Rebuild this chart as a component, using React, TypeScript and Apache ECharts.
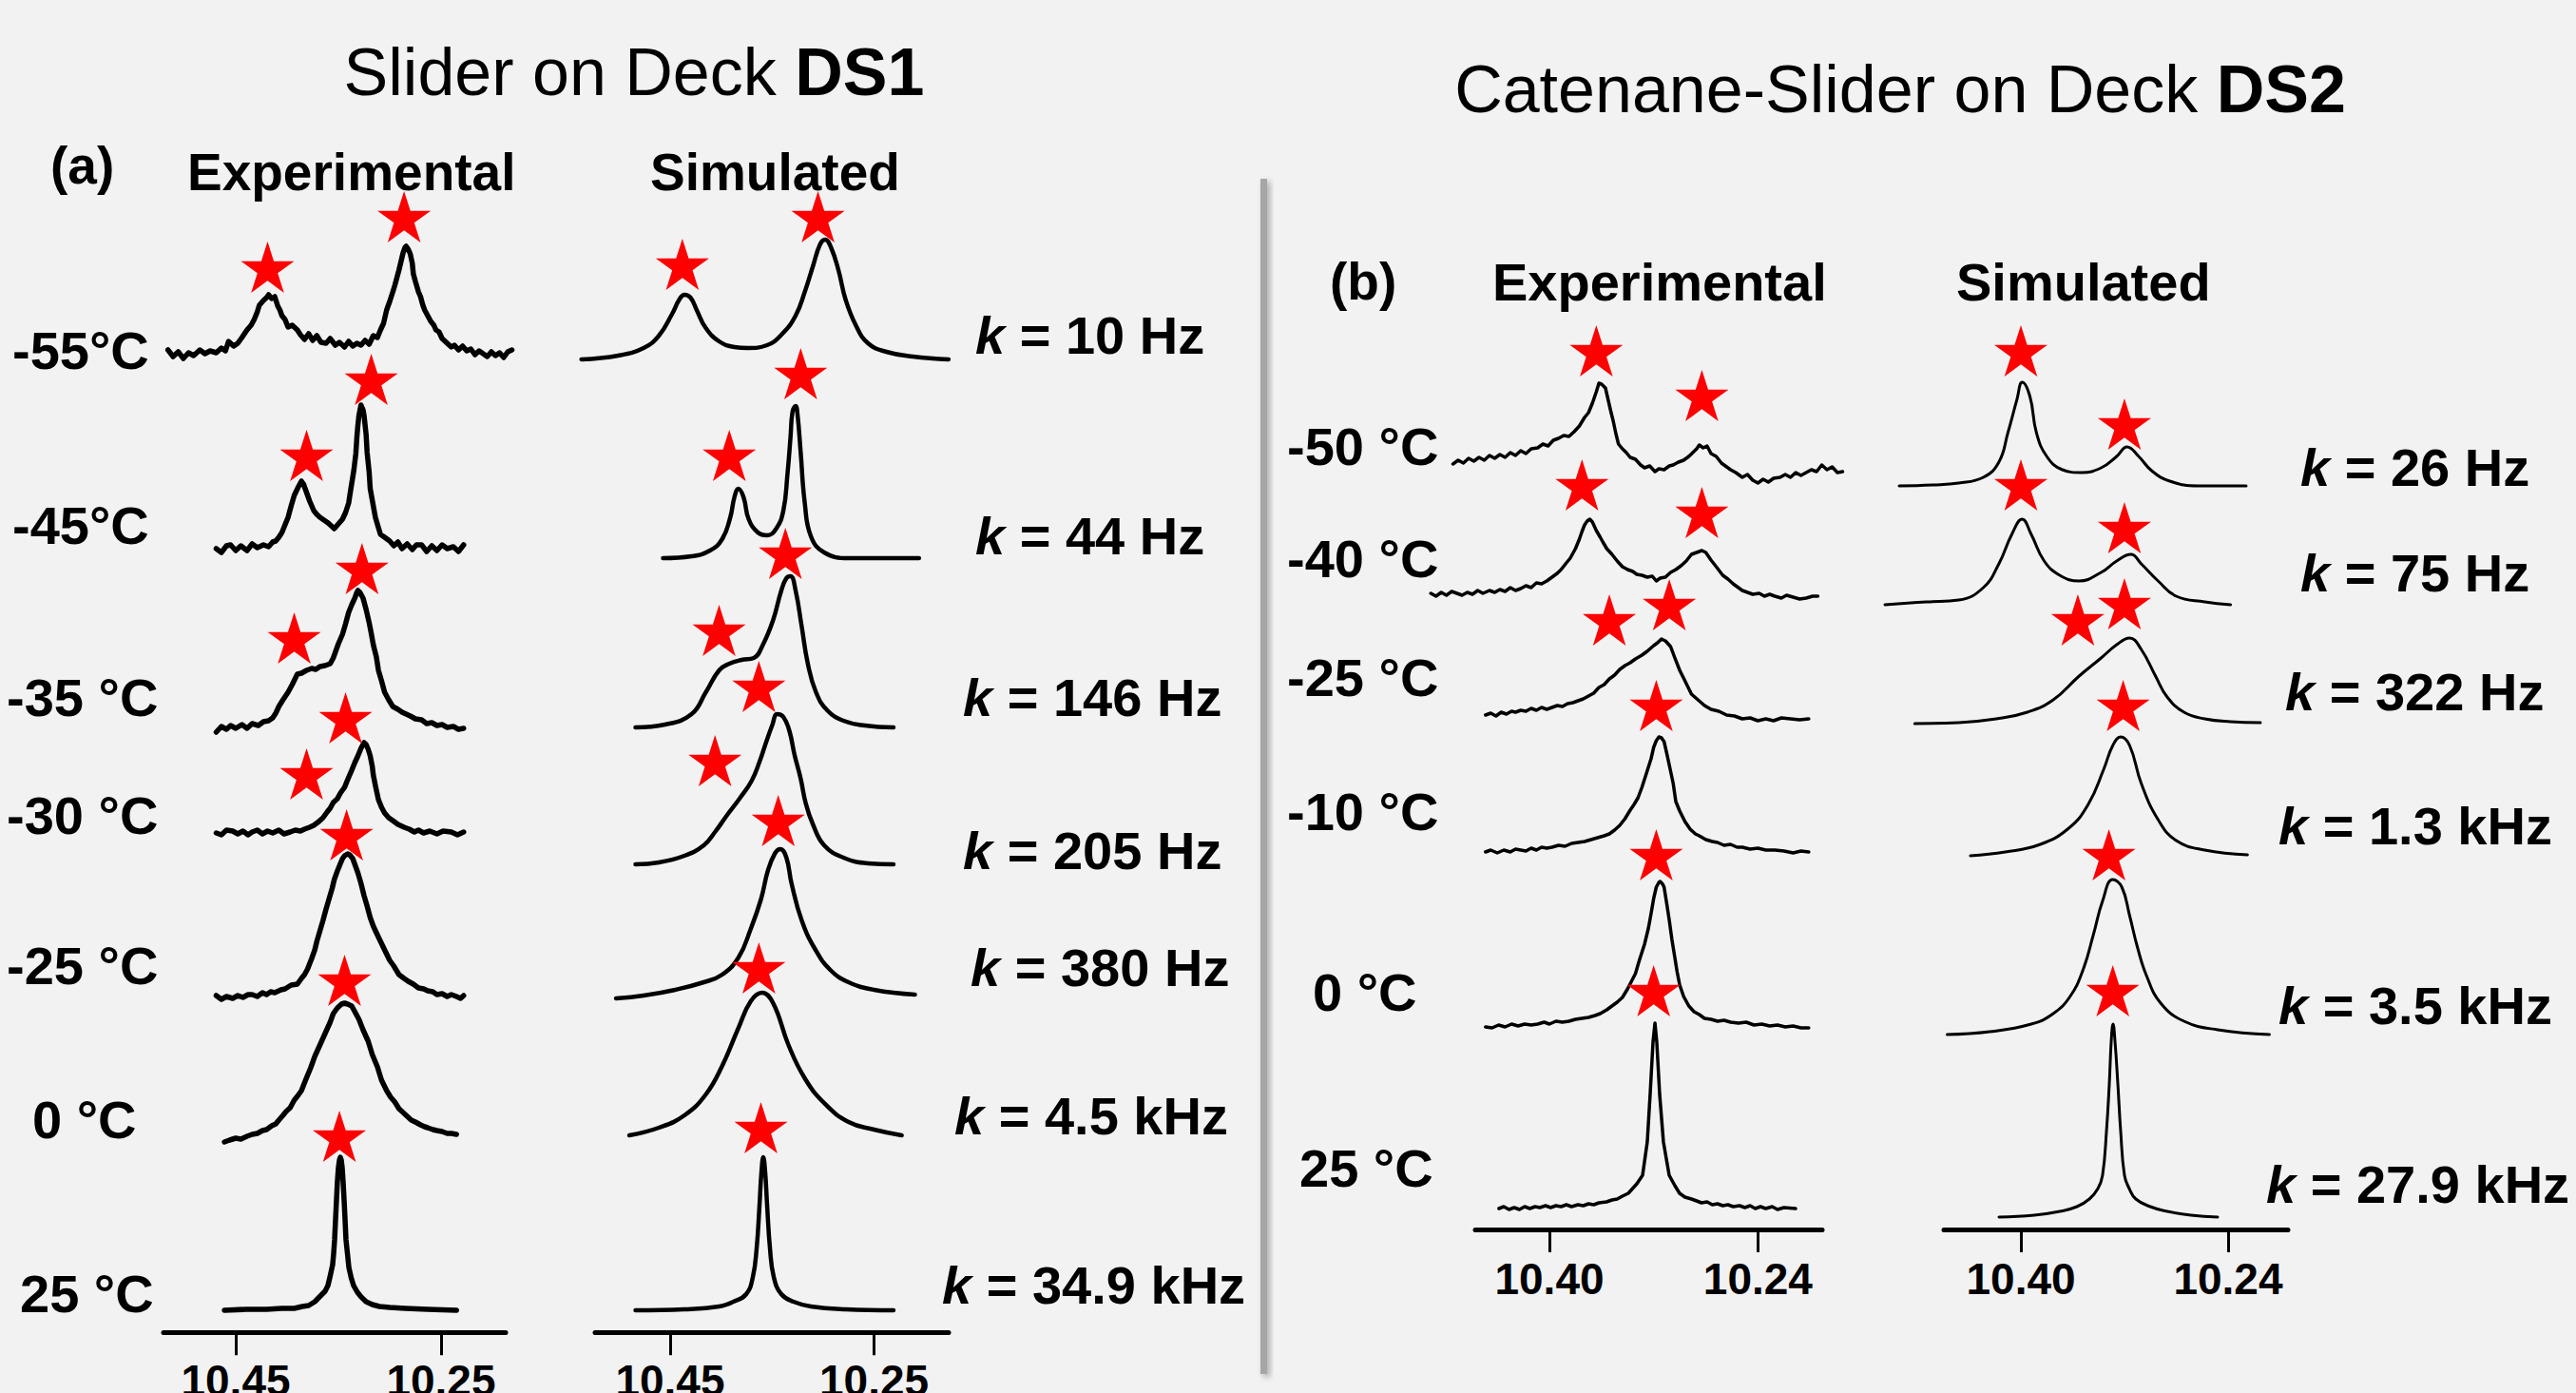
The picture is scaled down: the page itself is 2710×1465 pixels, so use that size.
import React, { useEffect, useRef } from "react";
import * as echarts from "echarts";

const FONT = "'Liberation Sans', Arial, Helvetica, sans-serif";

// ---------- Titles / labels ----------
const titleA = ["Slider on Deck ", "DS1"];
const titleB = ["Catenane-Slider on Deck ", "DS2"];
const tempsA = ["-55°C", "-45°C", "-35 °C", "-30 °C", "-25 °C", "0 °C", "25 °C"];
const ratesA = ["10 Hz", "44 Hz", "146 Hz", "205 Hz", "380 Hz", "4.5 kHz", "34.9 kHz"];
const tempsB = ["-50 °C", "-40 °C", "-25 °C", "-10 °C", "0 °C", "25 °C"];
const ratesB = ["26 Hz", "75 Hz", "322 Hz", "1.3 kHz", "3.5 kHz", "27.9 kHz"];
const ticksA = [10.45, 10.25];
const ticksB = [10.4, 10.24];

// ---------- Panel (a) experimental spectra: [ppm, intensity] ----------
const aExpM55 = [[10.516,4],[10.511,-3],[10.506,2],[10.501,-5],[10.496,1],[10.491,-2],[10.485,4],[10.480,0],[10.475,3],[10.469,1],[10.464,6],[10.460,3],[10.457,13],[10.452,8],[10.448,11],[10.444,17],[10.439,25],[10.435,30],[10.432,36],[10.429,44],[10.427,51],[10.423,56],[10.420,59],[10.418,62],[10.415,58],[10.412,60],[10.409,50],[10.407,46],[10.405,40],[10.402,36],[10.399,28],[10.395,30],[10.390,25],[10.387,20],[10.383,15],[10.379,21],[10.375,14],[10.371,19],[10.367,12],[10.362,11],[10.358,16],[10.353,9],[10.349,12],[10.344,7],[10.340,13],[10.336,8],[10.332,11],[10.328,9],[10.324,14],[10.320,10],[10.316,19],[10.312,17],[10.309,25],[10.306,32],[10.303,46],[10.300,55],[10.297,65],[10.295,72],[10.293,80],[10.291,88],[10.289,97],[10.287,106],[10.285,112],[10.284,113],[10.282,110],[10.280,105],[10.278,95],[10.277,84],[10.275,76],[10.272,65],[10.270,60],[10.268,52],[10.266,46],[10.263,40],[10.260,34],[10.257,30],[10.255,25],[10.252,23],[10.249,16],[10.246,13],[10.243,10],[10.240,7],[10.237,9],[10.233,4],[10.229,8],[10.225,3],[10.221,5],[10.217,-1],[10.213,3],[10.209,0],[10.205,-3],[10.201,2],[10.197,-2],[10.193,1],[10.189,-4],[10.185,2],[10.181,4]];
const aExpM45 = [[10.469,0],[10.464,-4],[10.459,3],[10.455,4],[10.450,-2],[10.445,3],[10.439,-2],[10.434,5],[10.429,1],[10.423,4],[10.418,2],[10.414,7],[10.411,8],[10.408,12],[10.405,17],[10.402,25],[10.399,33],[10.396,45],[10.393,56],[10.389,65],[10.386,71],[10.384,68],[10.381,59],[10.378,50],[10.374,40],[10.371,36],[10.368,33],[10.364,30],[10.360,27],[10.357,24],[10.354,21],[10.350,26],[10.346,31],[10.343,38],[10.340,48],[10.338,62],[10.335,82],[10.333,100],[10.332,117],[10.331,130],[10.330,140],[10.328,151],[10.326,146],[10.325,140],[10.323,120],[10.322,101],[10.320,80],[10.319,63],[10.316,45],[10.314,33],[10.311,22],[10.309,15],[10.305,12],[10.300,8],[10.296,3],[10.292,7],[10.288,0],[10.283,5],[10.278,-1],[10.274,4],[10.269,4],[10.264,-3],[10.259,3],[10.254,-2],[10.249,4],[10.244,0],[10.238,2],[10.233,-3],[10.228,4]];
const aExpM35 = [[10.469,-4],[10.464,2],[10.459,-1],[10.455,3],[10.450,0],[10.444,4],[10.439,0],[10.434,5],[10.428,3],[10.423,7],[10.418,8],[10.414,11],[10.411,16],[10.408,23],[10.404,30],[10.399,38],[10.395,46],[10.390,57],[10.386,58],[10.381,61],[10.376,63],[10.372,62],[10.368,65],[10.363,66],[10.358,68],[10.355,74],[10.353,80],[10.350,89],[10.346,99],[10.343,110],[10.340,122],[10.337,130],[10.334,137],[10.332,143],[10.331,145],[10.329,143],[10.326,137],[10.323,125],[10.320,111],[10.318,100],[10.316,88],[10.313,75],[10.311,61],[10.308,50],[10.305,38],[10.301,30],[10.297,23],[10.292,20],[10.288,17],[10.284,15],[10.280,13],[10.275,10],[10.269,9],[10.264,5],[10.259,6],[10.254,3],[10.249,4],[10.244,1],[10.238,2],[10.233,-1],[10.228,0]];
const aExpM30 = [[10.469,0],[10.464,-2],[10.459,3],[10.453,2],[10.448,-1],[10.443,2],[10.438,-2],[10.434,1],[10.429,3],[10.424,-1],[10.419,2],[10.414,0],[10.408,3],[10.403,-1],[10.397,1],[10.392,3],[10.387,2],[10.383,4],[10.378,6],[10.374,8],[10.369,12],[10.365,16],[10.361,22],[10.358,26],[10.355,32],[10.351,36],[10.348,42],[10.344,48],[10.341,56],[10.337,66],[10.334,74],[10.331,81],[10.328,89],[10.325,95],[10.323,93],[10.321,88],[10.319,81],[10.317,70],[10.316,61],[10.314,50],[10.311,35],[10.308,27],[10.305,21],[10.301,16],[10.297,13],[10.292,9],[10.286,6],[10.281,4],[10.276,1],[10.272,3],[10.267,0],[10.261,2],[10.254,-1],[10.248,2],[10.240,1],[10.234,-2],[10.228,1]];
const aExpM25 = [[10.469,2],[10.464,-2],[10.459,1],[10.453,-1],[10.448,2],[10.443,0],[10.438,3],[10.434,3],[10.429,1],[10.424,5],[10.420,3],[10.416,6],[10.412,5],[10.406,8],[10.402,9],[10.396,13],[10.390,14],[10.386,20],[10.383,24],[10.380,30],[10.376,41],[10.373,50],[10.371,59],[10.368,70],[10.365,81],[10.362,93],[10.359,104],[10.356,115],[10.354,124],[10.351,133],[10.348,141],[10.346,146],[10.344,149],[10.341,151],[10.339,150],[10.336,146],[10.334,140],[10.331,131],[10.328,120],[10.325,107],[10.322,96],[10.319,84],[10.316,75],[10.313,68],[10.309,59],[10.305,50],[10.300,39],[10.296,33],[10.291,24],[10.286,20],[10.282,17],[10.277,14],[10.272,10],[10.267,9],[10.263,7],[10.258,6],[10.254,3],[10.249,4],[10.244,1],[10.240,3],[10.235,1],[10.231,-1],[10.228,2]];
const aExp0 = [[10.461,-4],[10.456,-2],[10.450,0],[10.445,-1],[10.439,2],[10.434,4],[10.429,5],[10.424,8],[10.420,9],[10.415,13],[10.411,15],[10.408,19],[10.404,24],[10.401,28],[10.397,32],[10.393,40],[10.390,44],[10.386,50],[10.382,61],[10.377,74],[10.373,86],[10.368,98],[10.363,110],[10.358,122],[10.355,131],[10.351,137],[10.347,141],[10.344,142],[10.341,141],[10.337,139],[10.334,133],[10.330,125],[10.326,114],[10.321,102],[10.317,88],[10.312,75],[10.308,61],[10.303,50],[10.299,43],[10.295,38],[10.291,31],[10.287,27],[10.283,23],[10.279,19],[10.275,17],[10.270,14],[10.266,12],[10.263,11],[10.258,9],[10.254,8],[10.249,7],[10.244,5],[10.240,5],[10.235,4]];
const aExp25 = [[10.4610,0],[10.4400,1],[10.4200,1],[10.4050,2],[10.3930,2],[10.3850,4],[10.3790,5],[10.3730,9],[10.3676,15],[10.3630,20],[10.3602,26],[10.3580,36],[10.3556,48],[10.3546,60],[10.3537,74],[10.3528,95],[10.3519,115],[10.3510,135],[10.3500,150],[10.3490,158],[10.3481,161],[10.3472,158],[10.3463,150],[10.3454,135],[10.3444,115],[10.3435,95],[10.3426,74],[10.3412,60],[10.3398,45],[10.3375,34],[10.3352,26],[10.3315,19],[10.3278,14],[10.3230,9],[10.3170,6],[10.3100,4],[10.3000,3],[10.2850,2],[10.2630,1],[10.2350,0]];

// ---------- Panel (a) simulated spectra ----------
const aSimM55 = [[10.537,0],[10.501,4],[10.476,12],[10.461,25],[10.448,48],[10.441,63],[10.436,68],[10.430,65],[10.424,52],[10.415,33],[10.402,19],[10.387,13],[10.374,12],[10.355,15],[10.340,27],[10.327,46],[10.318,71],[10.310,98],[10.303,121],[10.298,126],[10.292,117],[10.285,94],[10.278,63],[10.268,36],[10.256,17],[10.238,8],[10.212,3],[10.177,0]];
const aSimM45 = [[10.457,0],[10.429,2],[10.411,8],[10.399,20],[10.391,43],[10.387,64],[10.383,73],[10.378,64],[10.373,41],[10.364,27],[10.355,24],[10.346,31],[10.339,50],[10.335,88],[10.332,127],[10.330,154],[10.327,160],[10.325,150],[10.322,111],[10.318,58],[10.312,23],[10.299,6],[10.275,0],[10.206,0]];
const aSimM35 = [[10.484,0],[10.455,3],[10.429,14],[10.415,37],[10.402,60],[10.392,67],[10.380,71],[10.368,73],[10.359,87],[10.349,113],[10.341,144],[10.336,157],[10.332,159],[10.327,144],[10.321,106],[10.315,67],[10.307,37],[10.296,18],[10.280,7],[10.259,2],[10.231,0]];
const aSimM30 = [[10.484,0],[10.461,2],[10.436,9],[10.417,20],[10.406,34],[10.394,52],[10.382,69],[10.370,88],[10.362,109],[10.356,128],[10.350,146],[10.345,158],[10.339,155],[10.333,140],[10.328,115],[10.322,90],[10.317,64],[10.310,42],[10.299,20],[10.280,7],[10.256,1],[10.231,0]];
const aSimM25 = [[10.503,-2],[10.476,1],[10.445,7],[10.417,15],[10.399,23],[10.383,41],[10.371,71],[10.361,102],[10.354,133],[10.347,151],[10.342,155],[10.336,146],[10.331,119],[10.321,80],[10.308,50],[10.293,28],[10.275,15],[10.250,7],[10.210,2]];
const aSim0 = [[10.490,-1],[10.461,7],[10.436,20],[10.415,42],[10.399,72],[10.383,112],[10.371,140],[10.360,149],[10.349,138],[10.334,94],[10.318,59],[10.299,33],[10.275,13],[10.250,5],[10.223,-1]];
const aSim25 = [[10.4840,0],[10.4360,1],[10.4020,4],[10.3880,9],[10.3754,17],[10.3689,35],[10.3652,65],[10.3624,110],[10.3605,145],[10.3587,161],[10.3568,145],[10.3549,110],[10.3521,65],[10.3484,35],[10.3410,17],[10.3290,9],[10.3120,4],[10.2780,1],[10.2310,0]];

// ---------- Panel (b) experimental spectra ----------
const bExpM50 = [[10.474,12],[10.470,16],[10.466,13],[10.462,18],[10.458,15],[10.454,19],[10.450,16],[10.446,21],[10.442,18],[10.438,22],[10.434,19],[10.430,24],[10.426,21],[10.422,26],[10.418,23],[10.414,28],[10.409,29],[10.405,33],[10.401,31],[10.397,37],[10.393,39],[10.389,42],[10.385,41],[10.381,46],[10.377,52],[10.373,61],[10.370,66],[10.367,76],[10.364,88],[10.362,97],[10.360,96],[10.357,92],[10.355,80],[10.353,68],[10.351,57],[10.349,44],[10.347,33],[10.344,28],[10.341,24],[10.338,19],[10.334,17],[10.330,11],[10.327,8],[10.323,10],[10.319,4],[10.316,7],[10.312,6],[10.308,10],[10.305,11],[10.301,14],[10.297,16],[10.293,20],[10.290,24],[10.287,28],[10.285,32],[10.282,29],[10.279,31],[10.276,23],[10.272,20],[10.268,13],[10.265,10],[10.261,6],[10.257,3],[10.252,-2],[10.248,1],[10.244,-5],[10.240,-8],[10.236,-4],[10.232,-7],[10.228,-3],[10.223,-2],[10.219,1],[10.215,-2],[10.211,3],[10.207,0],[10.203,3],[10.199,6],[10.195,4],[10.191,11],[10.187,6],[10.183,9],[10.179,3],[10.175,4]];
const bExpM40 = [[10.491,3],[10.487,0],[10.483,4],[10.479,1],[10.475,5],[10.471,3],[10.467,1],[10.463,4],[10.459,2],[10.455,6],[10.451,3],[10.446,6],[10.442,4],[10.438,7],[10.434,5],[10.430,9],[10.426,6],[10.422,8],[10.418,11],[10.414,9],[10.410,14],[10.406,13],[10.402,16],[10.398,20],[10.394,24],[10.391,28],[10.387,35],[10.384,40],[10.380,50],[10.377,60],[10.375,68],[10.373,75],[10.371,79],[10.369,81],[10.367,78],[10.364,69],[10.361,62],[10.359,57],[10.356,50],[10.352,44],[10.348,37],[10.344,31],[10.340,28],[10.336,26],[10.333,23],[10.329,22],[10.325,20],[10.321,21],[10.318,16],[10.315,19],[10.311,20],[10.307,25],[10.303,28],[10.299,32],[10.295,37],[10.291,44],[10.287,46],[10.283,48],[10.280,46],[10.276,38],[10.272,31],[10.267,22],[10.263,18],[10.259,13],[10.255,9],[10.252,6],[10.248,4],[10.244,2],[10.239,3],[10.235,0],[10.231,2],[10.227,0],[10.222,-2],[10.218,1],[10.213,-1],[10.208,-3],[10.203,-2],[10.198,0],[10.194,0]];
const bExpM25 = [[10.449,4],[10.445,6],[10.441,3],[10.437,7],[10.433,5],[10.429,8],[10.426,7],[10.422,9],[10.418,8],[10.414,11],[10.410,9],[10.406,12],[10.402,10],[10.398,12],[10.394,14],[10.390,13],[10.386,16],[10.382,17],[10.378,19],[10.374,21],[10.370,24],[10.366,27],[10.362,33],[10.358,36],[10.354,42],[10.350,46],[10.346,52],[10.342,56],[10.338,59],[10.334,63],[10.329,67],[10.325,71],[10.320,77],[10.317,80],[10.314,84],[10.311,82],[10.307,76],[10.304,65],[10.300,51],[10.296,40],[10.291,26],[10.286,20],[10.281,14],[10.276,10],[10.270,8],[10.264,4],[10.258,3],[10.252,0],[10.246,1],[10.240,-2],[10.234,0],[10.228,-2],[10.222,1],[10.215,0],[10.208,-1],[10.201,0]];
const bExpM10 = [[10.449,0],[10.445,2],[10.440,-1],[10.435,2],[10.430,0],[10.426,3],[10.422,2],[10.418,1],[10.414,4],[10.410,2],[10.406,5],[10.402,4],[10.398,5],[10.393,7],[10.388,6],[10.383,9],[10.378,10],[10.373,11],[10.368,13],[10.363,15],[10.358,17],[10.354,19],[10.350,23],[10.346,28],[10.342,35],[10.338,44],[10.335,50],[10.332,57],[10.329,68],[10.325,85],[10.322,98],[10.320,110],[10.318,117],[10.316,121],[10.314,120],[10.312,116],[10.310,104],[10.307,85],[10.305,72],[10.303,53],[10.300,43],[10.296,32],[10.292,24],[10.288,19],[10.285,17],[10.280,13],[10.275,11],[10.271,10],[10.266,7],[10.261,8],[10.256,5],[10.252,5],[10.246,3],[10.240,4],[10.234,2],[10.227,2],[10.220,1],[10.213,-1],[10.207,1],[10.201,0]];
const bExp0 = [[10.449,0],[10.444,-1],[10.439,2],[10.434,0],[10.429,3],[10.424,1],[10.419,3],[10.414,2],[10.409,3],[10.404,5],[10.400,3],[10.395,6],[10.390,5],[10.385,6],[10.380,8],[10.375,9],[10.370,10],[10.365,12],[10.361,14],[10.356,18],[10.352,22],[10.348,26],[10.344,31],[10.340,40],[10.337,48],[10.334,56],[10.331,70],[10.327,87],[10.324,104],[10.322,119],[10.320,135],[10.318,147],[10.316,152],[10.315,153],[10.313,150],[10.312,147],[10.310,130],[10.308,112],[10.306,92],[10.304,75],[10.302,58],[10.300,44],[10.297,32],[10.293,22],[10.289,16],[10.285,13],[10.281,9],[10.276,8],[10.271,6],[10.266,7],[10.261,5],[10.255,4],[10.249,5],[10.243,2],[10.237,3],[10.231,1],[10.225,2],[10.219,0],[10.213,1],[10.207,-1],[10.201,-1]];
const bExp25 = [[10.4387,0],[10.435,2],[10.431,-1],[10.427,1],[10.423,-1],[10.419,2],[10.415,0],[10.411,2],[10.4073,1],[10.403,3],[10.399,1],[10.395,3],[10.391,2],[10.387,4],[10.383,2],[10.3781,4],[10.374,3],[10.370,5],[10.366,4],[10.362,6],[10.3562,7],[10.352,9],[10.348,10],[10.344,13],[10.3395,16],[10.3362,21],[10.3329,26],[10.3285,35],[10.3249,70],[10.3227,120],[10.3205,175],[10.3190,195],[10.3176,175],[10.3154,120],[10.3125,70],[10.3081,35],[10.3037,24],[10.3001,16],[10.296,12],[10.291,10],[10.287,8],[10.2833,6],[10.279,7],[10.275,4],[10.271,5],[10.267,3],[10.263,4],[10.259,2],[10.2541,3],[10.250,1],[10.246,3],[10.242,0],[10.238,2],[10.234,0],[10.229,2],[10.225,-1],[10.220,1],[10.2111,0]];

// ---------- Panel (b) simulated spectra ----------
const bSimM50 = [[10.494,0],[10.468,1],[10.448,3],[10.429,9],[10.417,25],[10.410,56],[10.403,91],[10.399,109],[10.393,94],[10.388,56],[10.380,31],[10.368,17],[10.353,14],[10.338,19],[10.326,31],[10.318,41],[10.309,31],[10.299,16],[10.285,5],[10.263,0],[10.226,0]];
const bSimM40 = [[10.505,-1],[10.473,2],[10.448,4],[10.429,17],[10.417,42],[10.407,73],[10.399,89],[10.392,73],[10.382,45],[10.370,30],[10.355,24],[10.338,33],[10.326,45],[10.315,52],[10.307,42],[10.294,24],[10.280,8],[10.258,2],[10.238,-1]];
const bSimM25 = [[10.482,0],[10.448,1],[10.419,5],[10.395,12],[10.375,25],[10.355,50],[10.338,69],[10.326,83],[10.316,90],[10.307,78],[10.296,50],[10.287,28],[10.274,12],[10.258,5],[10.238,2],[10.215,1]];
const bSimM10 = [[10.439,-1],[10.412,3],[10.385,11],[10.363,28],[10.348,53],[10.336,90],[10.329,115],[10.323,124],[10.316,115],[10.307,75],[10.294,37],[10.280,15],[10.258,5],[10.225,0]];
const bSim0 = [[10.457,0],[10.424,3],[10.392,11],[10.375,22],[10.362,40],[10.352,68],[10.344,105],[10.337,140],[10.329,163],[10.322,155],[10.316,125],[10.310,92],[10.303,62],[10.292,33],[10.274,14],[10.248,5],[10.208,0]];
const bSim25 = [[10.4169,0],[10.3897,2],[10.3699,6],[10.3567,11],[10.3471,19],[10.3405,30],[10.3369,44],[10.3339,90],[10.3317,140],[10.3302,185],[10.3288,203],[10.3273,185],[10.3251,140],[10.3229,90],[10.3200,44],[10.3163,30],[10.3112,19],[10.3001,11],[10.2869,6],[10.2686,2],[10.2480,0]];

// ---------- Star markers [ppm, intensity] ----------
const aExpStars = [[[10.419,91],[10.286,144]],[[10.381,98],[10.318,178]],[[10.393,95],[10.327,168]],[[10.381,62],[10.343,121]],[[10.342,171]],[[10.344,166]],[[10.349,183]]];
const aSimStars = [[[10.438,100],[10.305,150]],[[10.392,108],[10.322,194]],[[10.402,102],[10.337,183]],[[10.406,109],[10.363,187]],[[10.344,185]],[[10.363,175]],[[10.361,192]]];
const bExpStars = [[[10.364,131],[10.283,84]],[[10.375,117],[10.283,88]],[[10.354,104],[10.308,120]],[[10.318,154]],[[10.318,181]],[[10.320,229]]];
const bSimStars = [[[10.400,142],[10.320,65]],[[10.400,125],[10.320,80]],[[10.356,109],[10.320,126]],[[10.321,157]],[[10.332,189]],[[10.329,238]]];

const STAR = "path://M50,0L61.23,34.55L97.55,34.55L68.17,55.9L79.39,90.45L50,69.1L20.61,90.45L31.83,55.9L2.45,34.55L38.77,34.55Z";

// ---------- Layout (pixel positions) ----------
const columns = [
  { spectra: [aExpM55, aExpM45, aExpM35, aExpM30, aExpM25, aExp0, aExp25], stars: aExpStars, left: 140, width: 432, baselines: [372, 577, 766, 876, 1049, 1197, 1378], lw: 5.5, smooth: false },
  { spectra: [aSimM55, aSimM45, aSimM35, aSimM30, aSimM25, aSim0, aSim25], stars: aSimStars, left: 597.7, width: 429.2, baselines: [378, 587, 765, 909, 1048, 1193, 1378], lw: 4.5, smooth: true },
  { spectra: [bExpM50, bExpM40, bExpM25, bExpM10, bExp0, bExp25], stars: bExpStars, left: 1424.35, width: 548.4, baselines: [500, 627, 756, 896, 1080, 1271], lw: 3.5, smooth: false },
  { spectra: [bSimM50, bSimM40, bSimM25, bSimM10, bSim0, bSim25], stars: bSimStars, left: 1921.7, width: 544.8, baselines: [511, 635, 761, 899, 1088, 1280], lw: 3, smooth: true },
];
const axesLayout = [
  { left: 172, width: 360, y: 1402, min: 10.187, max: 10.5204, ticks: ticksA, margin: 28 },
  { left: 626, width: 372, y: 1402, min: 10.1769, max: 10.5236, ticks: ticksA, margin: 28 },
  { left: 1552, width: 365, y: 1293, min: 10.1907, max: 10.4569, ticks: ticksB, margin: 29 },
  { left: 2045, width: 362, y: 1293, min: 10.1937, max: 10.4595, ticks: ticksB, margin: 29 },
];
const tempPosA = [[13, 388], [13, 572], [7, 753], [7, 877], [7, 1035], [34, 1197], [21, 1380]];
const ratePosA = [[1026, 372], [1026, 583], [1013, 753], [1013, 914], [1021, 1037], [1004, 1193], [991, 1371]];
const tempPosB = [[1354, 489], [1354, 607], [1354, 732], [1354, 873], [1381, 1063], [1367, 1248]];
const ratePosB = [[2420, 511], [2420, 622], [2404, 747], [2397, 888], [2397, 1077], [2384, 1265]];

function txt(x: number, baseline: number, text: string, size: number, weight: string, align = "left", rich?: any) {
  const y = baseline - 0.3465 * size;
  const style: any = {
    text,
    x: 0,
    y: 0,
    fill: "#000",
    fontSize: size,
    fontWeight: weight,
    fontFamily: FONT,
    font: `${weight} ${size}px ${FONT}`,
    align,
    verticalAlign: "middle",
    textAlign: align,
    textVerticalAlign: "middle",
  };
  if (rich) style.rich = rich;
  return { type: "text", x, y, style, z: 10 };
}

function buildOption() {
  const grid: any[] = [];
  const xAxis: any[] = [];
  const yAxis: any[] = [];
  const series: any[] = [];
  let gi = 0;
  columns.forEach((col) => {
    col.spectra.forEach((data, i) => {
      const base = col.baselines[i];
      grid.push({ left: col.left, top: base - 100, width: col.width, height: 100, containLabel: false });
      xAxis.push({ type: "value", gridIndex: gi, min: 10.15, max: 10.55, inverse: true, show: false });
      yAxis.push({ type: "value", gridIndex: gi, min: 0, max: 100, show: false });
      series.push({
        type: "line",
        xAxisIndex: gi,
        yAxisIndex: gi,
        data,
        showSymbol: false,
        symbol: "none",
        smooth: col.smooth ? 0.45 : false,
        clip: false,
        silent: true,
        lineStyle: { color: "#000", width: col.lw, join: "round", cap: "round", opacity: 1 },
        z: 2,
      });
      series.push({
        type: "scatter",
        xAxisIndex: gi,
        yAxisIndex: gi,
        data: col.stars[i],
        symbol: STAR,
        symbolSize: [56, 54],
        clip: false,
        silent: true,
        itemStyle: { color: "#ff0000", opacity: 1 },
        z: 3,
      });
      gi++;
    });
  });
  axesLayout.forEach((ax) => {
    grid.push({ left: ax.left, top: ax.y - 1, width: ax.width, height: 1, containLabel: false });
    xAxis.push({
      type: "value",
      gridIndex: gi,
      min: ax.min,
      max: ax.max,
      inverse: true,
      position: "bottom",
      splitLine: { show: false },
      axisLine: { show: true, onZero: false, lineStyle: { color: "#000", width: 5 } },
      axisTick: { show: true, length: 24, inside: false, lineStyle: { color: "#000", width: 3 }, customValues: ax.ticks },
      axisLabel: {
        show: true,
        customValues: ax.ticks,
        formatter: (v: number) => v.toFixed(2),
        fontSize: 46,
        fontWeight: "bold",
        fontFamily: FONT,
        color: "#000",
        margin: ax.margin,
      },
    });
    yAxis.push({ type: "value", gridIndex: gi, min: 0, max: 1, show: false });
    gi++;
  });

  const bold = (s: number) => ({ fontSize: s, fontWeight: "bold", fontFamily: FONT, fill: "#000" });
  const kRich = {
    i: { fontSize: 56, fontWeight: "bold", fontStyle: "italic", fontFamily: FONT, fill: "#000" },
    n: bold(56),
  };
  const titleRich = {
    n: { fontSize: 70, fontWeight: "normal", fontFamily: FONT, fill: "#000" },
    b: { fontSize: 70, fontWeight: "bold", fontFamily: FONT, fill: "#000" },
  };
  const g: any[] = [];
  g.push(txt(667, 100, `{n|${titleA[0]}}{b|${titleA[1]}}`, 70, "normal", "center", titleRich));
  g.push(txt(1999, 118, `{n|${titleB[0]}}{b|${titleB[1]}}`, 70, "normal", "center", titleRich));
  g.push(txt(53, 193, "(a)", 55, "bold"));
  g.push(txt(197, 200, "Experimental", 55, "bold"));
  g.push(txt(684, 200, "Simulated", 55, "bold"));
  g.push(txt(1399, 315, "(b)", 55, "bold"));
  g.push(txt(1570, 316, "Experimental", 56, "bold"));
  g.push(txt(2058, 316, "Simulated", 56, "bold"));
  tempsA.forEach((t, i) => g.push(txt(tempPosA[i][0], tempPosA[i][1], t, 56, "bold")));
  tempsB.forEach((t, i) => g.push(txt(tempPosB[i][0], tempPosB[i][1], t, 56, "bold")));
  ratesA.forEach((r, i) => g.push(txt(ratePosA[i][0], ratePosA[i][1], `{i|k}{n| = ${r}}`, 56, "bold", "left", kRich)));
  ratesB.forEach((r, i) => g.push(txt(ratePosB[i][0], ratePosB[i][1], `{i|k}{n| = ${r}}`, 56, "bold", "left", kRich)));
  g.push({
    type: "rect",
    shape: { x: 1326, y: 188, width: 7, height: 1257 },
    style: { fill: "#a6a6a6", shadowBlur: 6, shadowColor: "rgba(0,0,0,0.3)", shadowOffsetX: 3, shadowOffsetY: 3 },
    z: 1,
  });

  return {
    animation: false,
    backgroundColor: "#f2f2f2",
    grid,
    xAxis,
    yAxis,
    series,
    graphic: { elements: g },
  };
}

export default function App() {
  const ref = useRef<HTMLDivElement>(null);
  useEffect(() => {
    document.body.style.margin = "0";
    document.body.style.background = "#f2f2f2";
    const chart = echarts.init(ref.current!, null, { renderer: "svg", width: 2710, height: 1465 });
    chart.setOption(buildOption() as any);
    return () => chart.dispose();
  }, []);
  return <div ref={ref} style={{ width: 2710, height: 1465 }} />;
}
